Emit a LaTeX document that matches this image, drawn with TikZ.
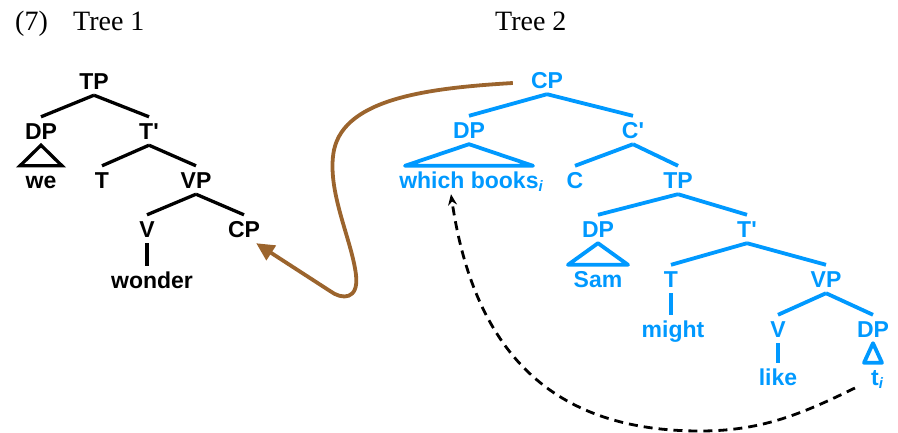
\documentclass[tikz,border=0pt]{standalone}
\usepackage{fontspec}
\setmainfont{Liberation Serif}
\setsansfont{Liberation Sans}
\usetikzlibrary{arrows.meta,calc}
\definecolor{skyb}{RGB}{0,153,255}
\definecolor{brownarr}{RGB}{155,100,45}
\newcommand{\subi}{\raisebox{-3pt}{\fontsize{15}{15}\selectfont\itshape i}}
\newcommand{\myprime}{\textquotesingle}
\begin{document}
\begin{tikzpicture}[x=1pt,y=-1pt,
  title/.style={anchor=base west, inner sep=0pt, font=\fontsize{28}{28}\selectfont},
  lab/.style={anchor=base, inner xsep=2pt, inner ysep=6pt, text height=16pt, text depth=0pt,
    font=\sffamily\bfseries\fontsize{23}{23}\selectfont},
  la/.style={lab, text=black},
  lb/.style={lab, text=skyb},
  ea/.style={draw=black, line width=3.3pt},
  eb/.style={draw=skyb, line width=3.8pt, line join=round},
  mv/.style={draw=brownarr, line width=3.8pt, -{Triangle[length=18pt,width=17pt]}},
  tr/.style={draw=black, line width=2.8pt, dash pattern=on 9pt off 6pt, -{Stealth[length=11pt,width=9pt]}}]
\useasboundingbox (0,0) rectangle (898,432);

% titles
\node[title] (num) at (15,30) {(7)};
\node[title] (ta) at (73,30) {Tree 1};
\node[title] (tb) at (495,30) {Tree 2};

% Tree 1
\node[la] (tpA) at (94,89) {TP};
\node[la] (dpA) at (41,139) {DP};
\node[la] (tbA) at (149,139) {T\myprime};
\node[la] (weA) at (41,188) {we};
\node[la] (tA) at (102,188) {T};
\node[la] (vpA) at (196,188) {VP};
\node[la] (vA) at (147,237) {V};
\node[la] (cpA) at (244,237) {CP};
\node[la] (wonA) at (152,288) {wonder};

\draw[ea] (tpA.south) -- (dpA.north);
\draw[ea] (tpA.south) -- (tbA.north);
\draw[ea] (tbA.south) -- (tA.north);
\draw[ea] (tbA.south) -- (vpA.north);
\draw[ea] (vpA.south) -- (vA.north);
\draw[ea] (vpA.south) -- (cpA.north);
\draw[ea] (vA.south) -- (vA.south |- wonA.north);
\draw[ea, line join=miter] (dpA.south) -- ($(dpA.south |- weA.north)+(-21,0)$) -- ($(dpA.south |- weA.north)+(21,0)$) -- cycle;

% Tree 2
\node[lb] (cpB) at (547,88) {CP};
\node[lb] (dpB) at (469,138) {DP};
\node[lb] (cbB) at (633,138) {C\myprime};
\node[lb] (wbB) at (471,188) {which books\subi};
\node[lb] (cB) at (575,188) {C};
\node[lb] (tpB) at (678,188) {TP};
\node[lb] (dpB2) at (598,237) {DP};
\node[lb] (tbB) at (747,237) {T\myprime};
\node[lb] (samB) at (598,287) {Sam};
\node[lb] (tB) at (671,287) {T};
\node[lb] (vpB) at (826,287) {VP};
\node[lb] (mightB) at (673,337) {might};
\node[lb] (vB) at (778,337) {V};
\node[lb] (dpB3) at (873,337) {DP};
\node[lb] (likeB) at (778,385) {like};
\node[lb] (tiB) at (877,385) {t\subi};

\draw[eb] (cpB.south) -- (dpB.north);
\draw[eb] (cpB.south) -- (cbB.north);
\draw[eb] (cbB.south) -- (cB.north);
\draw[eb] (cbB.south) -- (tpB.north);
\draw[eb] (tpB.south) -- (dpB2.north);
\draw[eb] (tpB.south) -- (tbB.north);
\draw[eb] (tbB.south) -- (tB.north);
\draw[eb] (tbB.south) -- (vpB.north);
\draw[eb] (vpB.south) -- (vB.north);
\draw[eb] (vpB.south) -- (dpB3.north);
\draw[eb] (tB.south) -- (tB.south |- mightB.north);
\draw[eb] (vB.south) -- (vB.south |- likeB.north);
\draw[eb] (dpB.south) -- ($(dpB.south |- wbB.north)+(-64,0)$) -- ($(dpB.south |- wbB.north)+(64,0)$) -- cycle;
\draw[eb] (dpB2.south) -- ($(dpB2.south |- samB.north)+(-30,0)$) -- ($(dpB2.south |- samB.north)+(30,0)$) -- cycle;
\draw[eb] (dpB3.south) -- ($(dpB3.south |- tiB.north)+(-9,0)$) -- ($(dpB3.south |- tiB.north)+(9,0)$) -- cycle;

% movement arrows
\draw[mv] ([xshift=-16pt,yshift=-3pt]cpB.west) .. controls (430,88) and (345,98) .. (334,150)
  .. controls (326,190) and (352,240) .. (356,275)
  .. controls (359,300) and (342,300) .. (330,291) -- ([xshift=-6pt]cpA.south east);
\draw[tr] ([xshift=-14pt,yshift=-3pt]tiB.base west) .. controls (800,415) and (760,431) .. (700,431)
  .. controls (580,431) and (478,380) .. ([xshift=-20pt]wbB.south);
\end{tikzpicture}
\end{document}
